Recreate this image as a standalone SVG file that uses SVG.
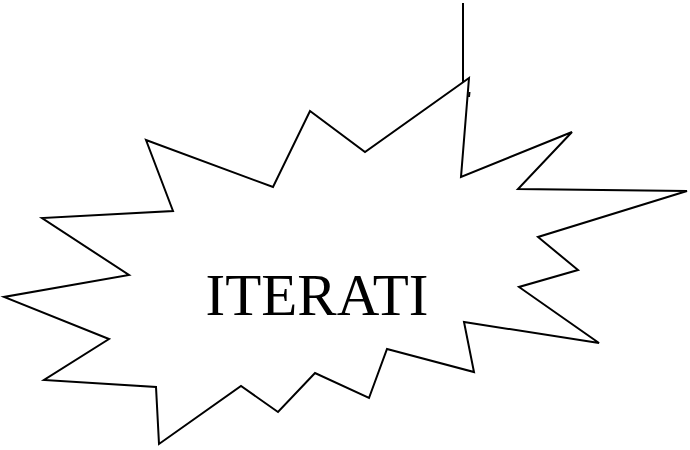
<svg xmlns="http://www.w3.org/2000/svg" width="690" height="450" viewBox="0 0 690 450">
<style>
.ln{fill:none;stroke:#000;stroke-width:2;stroke-linejoin:miter}
.star{fill:#fff;stroke:#000;stroke-width:2;stroke-linejoin:miter}
.t{font-family:"Liberation Serif","Times New Roman",serif;font-size:59px;fill:#000}
</style>
<rect width="690" height="450" fill="#fff"/>
<g id="connectors">
<path class="ln" d="M463 3 L463 82"/>
<path class="ln" d="M469.5 92 L469 97" stroke-width="1"/>
</g>
<g id="burst">
<polygon class="star" points="469,78 461,177 572,132 518,189 687,191 538,237 578,270 519,287 599,343 464,322 474,372 387,349 369,398 315,373 278,412 241,386 159,444 156,387 44,380 109,339 4,297 129,275 42,218 173,211 146,140 273,187 310,111 365,152"/>
<text class="t" x="317" y="315" text-anchor="middle">ITERATI</text>
</g>
</svg>
